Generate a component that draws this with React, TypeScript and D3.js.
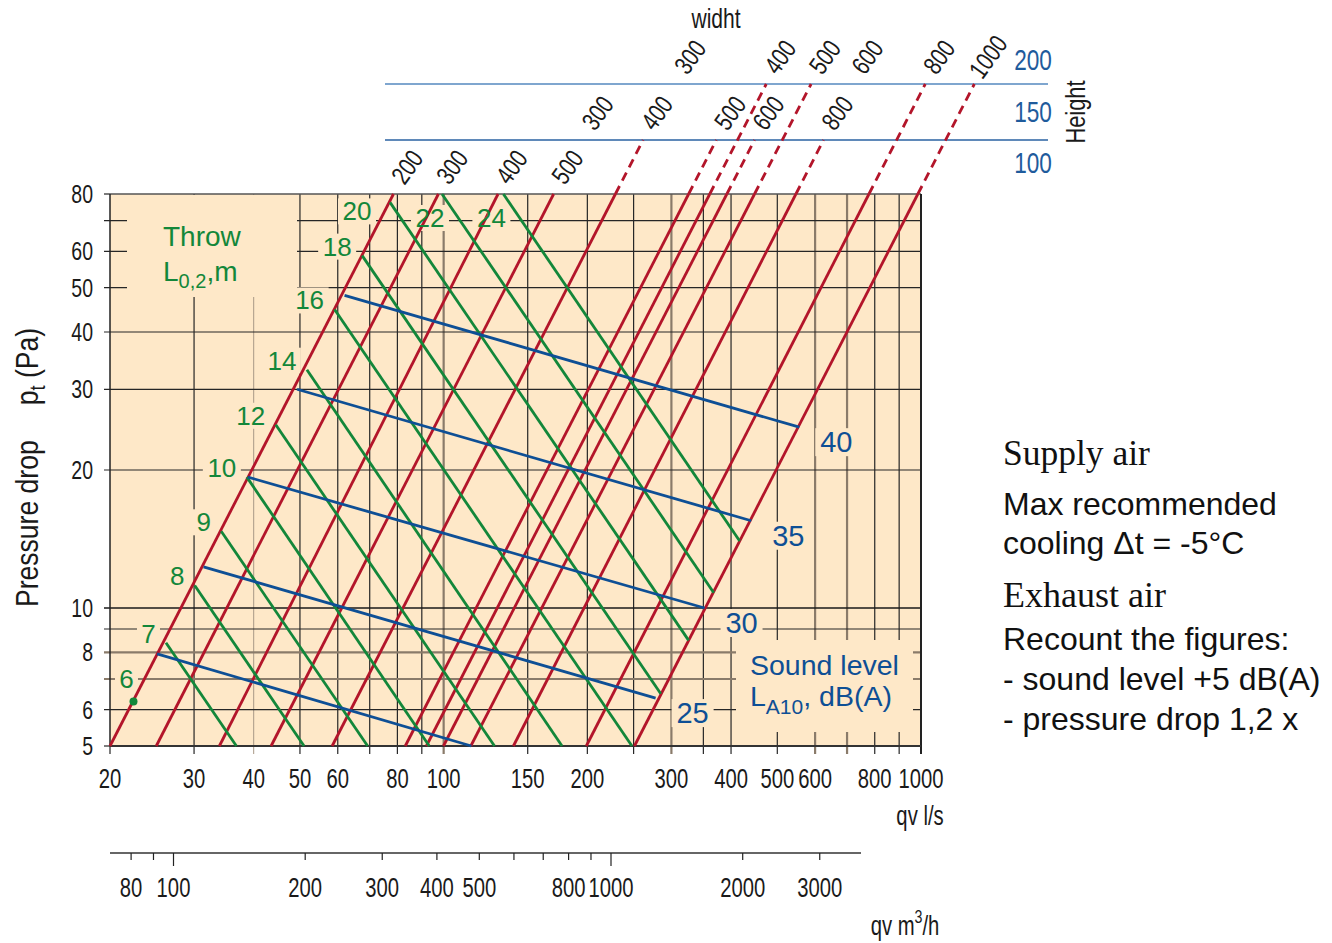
import React from "react";
import * as d3 from "d3";

// ---------- DATA ----------
const xTickLabels = [20, 30, 40, 50, 60, 80, 100, 150, 200, 300, 400, 500, 600, 800, 1000];
const xGridValues = [30, 40, 50, 60, 70, 80, 90, 100, 150, 200, 250, 300, 350, 400, 500, 600, 700, 800, 900];
const yTickLabels = [5, 6, 8, 10, 20, 30, 40, 50, 60, 80];
const yGridValues = [6, 7, 8, 9, 10, 20, 30, 40, 50, 60, 70];
const m3hTicks = [80, 90, 100, 200, 300, 400, 500, 600, 700, 800, 900, 1000, 2000, 3000];
const m3hLabels = [80, 100, 200, 300, 400, 500, 800, 1000, 2000, 3000];

// duct (grille) size lines: height x width, q (l/s) at 5 Pa and at 80 Pa
const ductHeights = [100, 150, 200];
const ductHeight = [100, 100, 100, 100, 150, 150, 150, 150, 150, 200, 200, 200, 200, 200, 200];
const ductWidth = [200, 300, 400, 500, 300, 400, 500, 600, 800, 300, 400, 500, 600, 800, 1000];
const ductQAt5 = [20, 25, 33.9, 43.5, 43.9, 58.4, 83.1, 99.9, 140, 59.7, 92, 114, 140.3, 199, 251];
const ductQAt80 = [78.5, 97.5, 130, 170, 172, 229, 326, 392, 547, 234, 361, 448, 550, 778, 985];
const ductDrawn = [1, 1, 1, 1, 0, 1, 1, 1, 1, 0, 1, 1, 0, 1, 1];

// throw lines L0,2 (m)
const throwValues = [6, 7, 8, 9, 10, 12, 14, 16, 18, 20, 22, 24];
const throwStartQ = [22.4, 26.2, 30.1, 34.2, 38.7, 44.5, 51.7, 59.1, 67.5, 77.2, 99.2, 133.4];
const throwStartP = [6.25, 8.4, 11.2, 14.7, 19.3, 25.1, 33.1, 44.8, 58.7, 76.7, 80, 80];
const throwEndQ = [22.4, 36.8, 51.0, 69.3, 93.3, 127.8, 177, 248, 285, 326, 368, 417];
const throwEndP = [6.25, 5, 5, 5, 5, 5, 5, 5, 6.5, 8.5, 10.8, 14.0];

// sound level lines LA10 dB(A)
const soundLabels = ["", "25", "30", "35", "40"];
const soundStartQ = [25.1, 31.4, 38.9, 49.3, 62];
const soundStartP = [7.94, 12.3, 19.3, 30.0, 48.1];
const soundEndQ = [114.3, 278, 352, 441, 556];
const soundEndP = [5, 6.36, 10.0, 15.5, 24.8];

// ---------- STYLE ----------
const BG = "#fee8c8";
const RED = "#b3152a";
const GREEN = "#13873a";
const BLUE = "#0e4f95";
const LBLUE = "#1f5b9c";
const SANS = "'Liberation Sans', Arial, Helvetica, sans-serif";
const SERIF = "'Liberation Serif', 'Times New Roman', serif";
const LW = 2.8;

type NTProps = {
  x: number; y: number; children: React.ReactNode; size?: number; anchor?: string;
  rot?: number; fill?: string; sx?: number; baseline?: string;
};
const NT = ({ x, y, children, size = 27, anchor = "middle", rot = 0, fill = "#1a1a1a", sx = 0.75, baseline = "central" }: NTProps) => (
  <text
    transform={`translate(${x},${y}) rotate(${rot}) scale(${sx},1)`}
    fontSize={size}
    textAnchor={anchor as any}
    dominantBaseline={baseline as any}
    fill={fill}
    fontFamily={SANS}
  >
    {children}
  </text>
);

export default function App() {
  const X0 = 110, X1 = 921, YB = 746, YT = 194;
  const x = d3.scaleLog().domain([20, 1000]).range([X0, X1]);
  const y = d3.scaleLog().domain([5, 80]).range([YB, YT]);
  const xm = d3.scaleLog().domain([100, 1000]).range([173.5, 611]);
  const rowY: Record<number, number> = { 100: YT, 150: YT - 54, 200: YT - 110 };
  const rowLabelY: Record<number, number> = { 100: 163, 150: 112, 200: 60 };
  const line = d3.line<[number, number]>();

  const ducts = ductWidth.map((w, i) => ({
    w, h: ductHeight[i], q5: ductQAt5[i], q80: ductQAt80[i], drawn: ductDrawn[i] === 1,
  }));
  const xAtY = (d: { q5: number; q80: number }, yy: number) => {
    const xb = x(d.q5), xt = x(d.q80);
    return xt + ((YT - yy) * (xt - xb)) / (YB - YT);
  };

  const gridStyle = (v: number, axis: "x" | "y") => {
    if (axis === "x") {
      if (v === 40) return { stroke: "#a89886", w: 1 };
      if (v === 100 || v === 300 || v === 600 || v === 700) return { stroke: "#8a7b6a", w: 2.2 };
      return { stroke: "#262626", w: 1.2 };
    }
    if (v === 7 || v === 8) return { stroke: "#8a7b6a", w: 2.2 };
    if (v === 10) return { stroke: "#1a1a1a", w: 1.6 };
    return { stroke: "#262626", w: 1.2 };
  };

  // throw labels
  const throwLabels = throwValues.map((t, i) => {
    const sx = x(throwStartQ[i]), sy = y(throwStartP[i]);
    const s = String(t);
    let cx: number, cy: number;
    const isDot = throwStartQ[i] === throwEndQ[i];
    if (isDot) { cx = sx - 7; cy = sy - 23; }
    else if (sy <= YT + 1) { cx = sx - 12; cy = YT + 24; }
    else if (sy - YT < 15) { cx = sx - 33; cy = sy + 9; }
    else { cx = sx - (10 + 7.5 * s.length); cy = sy - 9; }
    return { s, cx, cy };
  });

  const soundLab = soundLabels.map((s, i) => ({
    s, cx: x(soundEndQ[i]) + 37, cy: y(soundEndP[i]) + 15,
  })).filter((d) => d.s !== "");

  return (
    <svg width={1332} height={943} style={{ position: "absolute", left: 0, top: 0, background: "#fff" }}>
      {/* plot background */}
      <rect x={X0} y={YT} width={X1 - X0} height={YB - YT} fill={BG} />

      {/* grid */}
      {xGridValues.map((v) => {
        const g = gridStyle(v, "x");
        return <line key={"gx" + v} x1={x(v)} x2={x(v)} y1={YT} y2={YB + 8} stroke={g.stroke} strokeWidth={g.w} />;
      })}
      {yGridValues.map((v) => {
        const g = gridStyle(v, "y");
        return <line key={"gy" + v} x1={X0 - 6} x2={X1} y1={y(v)} y2={y(v)} stroke={g.stroke} strokeWidth={g.w} />;
      })}
      <line x1={X0 - 6} x2={X0} y1={y(80)} y2={y(80)} stroke="#262626" strokeWidth={1.2} />
      <line x1={X0 - 6} x2={X0} y1={y(5)} y2={y(5)} stroke="#262626" strokeWidth={1.2} />
      <line x1={X0} x2={X0} y1={YB} y2={YB + 8} stroke="#262626" strokeWidth={1.2} />

      {/* label background boxes (hide grid) */}
      <rect x={127} y={YT + 1} width={170} height={102} fill={BG} />
      <rect x={736} y={640} width={177} height={92} fill={BG} />
      {throwLabels.map((d) => (
        <rect key={"tb" + d.s} x={d.cx - (d.s.length * 15 + 8) / 2} y={d.cy - 13} width={d.s.length * 15 + 8} height={26} fill={BG} />
      ))}
      {soundLab.map((d) => (
        <rect key={"sb" + d.s} x={d.cx - 21} y={d.cy - 14} width={42} height={28} fill={BG} />
      ))}

      {/* frame */}
      <line x1={X0} x2={X1} y1={YT} y2={YT} stroke="#555" strokeWidth={1.5} />
      <line x1={X0} x2={X0} y1={YT} y2={YB} stroke="#222" strokeWidth={1.5} />
      <line x1={X1} x2={X1} y1={YT} y2={YB + 8} stroke="#222" strokeWidth={2} />
      <line x1={X0} x2={X1} y1={YB} y2={YB} stroke="#333" strokeWidth={2} />

      {/* top nomogram rows */}
      <line x1={385} x2={1048} y1={rowY[200]} y2={rowY[200]} stroke="#7fa6cf" strokeWidth={2} />
      <line x1={385} x2={1048} y1={rowY[150]} y2={rowY[150]} stroke="#2a62a2" strokeWidth={1.6} />

      {/* duct lines */}
      {ducts.filter((d) => d.drawn).map((d, i) => (
        <g key={"d" + i}>
          <path d={line([[x(d.q5), YB], [x(d.q80), YT]]) || ""} stroke={RED} strokeWidth={LW} fill="none" />
          {d.h > 100 && (
            <path
              d={line([[x(d.q80), YT], [xAtY(d, rowY[d.h]), rowY[d.h]]]) || ""}
              stroke={RED}
              strokeWidth={LW}
              strokeDasharray="9,6"
              fill="none"
            />
          )}
        </g>
      ))}

      {/* throw lines */}
      {throwValues.map((t, i) =>
        throwStartQ[i] === throwEndQ[i] ? (
          <circle key={"tc" + t} cx={x(throwStartQ[i])} cy={y(throwStartP[i])} r={4} fill={GREEN} />
        ) : (
          <path
            key={"t" + t}
            d={line([[x(throwStartQ[i]), y(throwStartP[i])], [x(throwEndQ[i]), y(throwEndP[i])]]) || ""}
            stroke={GREEN}
            strokeWidth={LW}
            fill="none"
          />
        )
      )}

      {/* sound lines */}
      {soundStartQ.map((q, i) => (
        <path
          key={"s" + i}
          d={line([[x(q), y(soundStartP[i])], [x(soundEndQ[i]), y(soundEndP[i])]]) || ""}
          stroke={BLUE}
          strokeWidth={LW}
          fill="none"
        />
      ))}

      {/* throw labels */}
      {throwLabels.map((d) => (
        <text key={"tl" + d.s} x={d.cx} y={d.cy} fontSize={26} fill={GREEN} fontFamily={SANS} textAnchor="middle" dominantBaseline="central">
          {d.s}
        </text>
      ))}
      <text x={163} y={246} fontSize={28} fill={GREEN} fontFamily={SANS}>Throw</text>
      <text x={163} y={281} fontSize={28} fill={GREEN} fontFamily={SANS}>
        L<tspan fontSize={20} dy={7}>0,2</tspan><tspan dy={-7}>,m</tspan>
      </text>

      {/* sound labels */}
      {soundLab.map((d) => (
        <text key={"sl" + d.s} x={d.cx} y={d.cy} fontSize={29} fill={BLUE} fontFamily={SANS} textAnchor="middle" dominantBaseline="central">
          {d.s}
        </text>
      ))}
      <text x={750} y={675} fontSize={28.5} fill={BLUE} fontFamily={SANS}>Sound level</text>
      <text x={750} y={706} fontSize={28.5} fill={BLUE} fontFamily={SANS}>
        L<tspan fontSize={21} dy={8}>A10</tspan><tspan dy={-8}>, dB(A)</tspan>
      </text>

      {/* width labels on the duct lines */}
      {ducts.map((d, i) => {
        const ly = rowY[d.h] - 27;
        return (
          <NT key={"wl" + i} x={xAtY(d, ly)} y={ly} size={26} rot={-54} sx={0.78}>
            {d.w}
          </NT>
        );
      })}
      {ductHeights.map((h) => (
        <NT key={"hl" + h} x={1033} y={rowLabelY[h]} size={29} fill={LBLUE} sx={0.78}>
          {h}
        </NT>
      ))}
      <NT x={1085} y={112} size={28} rot={-90} sx={0.78} baseline="alphabetic">Height</NT>
      <NT x={716} y={28} size={27} sx={0.78} baseline="alphabetic">widht</NT>

      {/* y axis labels */}
      {yTickLabels.map((v) => (
        <NT key={"yl" + v} x={93} y={y(v)} anchor="end" size={26}>
          {v}
        </NT>
      ))}
      <g transform={`translate(38,607) rotate(-90) scale(0.83,1)`}>
        <text x={0} y={0} fontSize={32} fill="#1a1a1a" fontFamily={SANS}>Pressure drop</text>
        <text x={243} y={0} fontSize={32} fill="#1a1a1a" fontFamily={SANS}>
          p<tspan fontSize={22} dy={7}>t</tspan><tspan dy={-7}> (Pa)</tspan>
        </text>
      </g>

      {/* x axis labels l/s */}
      {xTickLabels.map((v) => (
        <NT key={"xl" + v} x={x(v)} y={778} size={27}>
          {v}
        </NT>
      ))}
      <NT x={920} y={815} size={27}>qv l/s</NT>

      {/* m3/h axis */}
      <line x1={110} x2={861} y1={853} y2={853} stroke="#666" strokeWidth={2} />
      {m3hTicks.map((v) => (
        <line key={"mt" + v} x1={xm(v)} x2={xm(v)} y1={853} y2={v === 100 || v === 1000 ? 866 : 860} stroke="#222" strokeWidth={1.2} />
      ))}
      {m3hLabels.map((v) => (
        <NT key={"ml" + v} x={xm(v)} y={887} size={27}>
          {v}
        </NT>
      ))}
      <NT x={905} y={925} size={27}>
        qv m<tspan fontSize={19} dy={-9}>3</tspan><tspan dy={9}>/h</tspan>
      </NT>

      {/* right text */}
      <text x={1003} y={465} fontSize={35.5} fontFamily={SERIF} fill="#111">Supply air</text>
      <text x={1003} y={515} fontSize={32} fontFamily={SANS} fill="#111">Max recommended</text>
      <text x={1003} y={554} fontSize={32} fontFamily={SANS} fill="#111">cooling Δt = -5°C</text>
      <text x={1003} y={607} fontSize={36} fontFamily={SERIF} fill="#111">Exhaust air</text>
      <text x={1003} y={650} fontSize={32} fontFamily={SANS} fill="#111">Recount the figures:</text>
      <text x={1003} y={690} fontSize={32} fontFamily={SANS} fill="#111">- sound level +5 dB(A)</text>
      <text x={1003} y={730} fontSize={32} fontFamily={SANS} fill="#111">- pressure drop 1,2 x</text>
    </svg>
  );
}
